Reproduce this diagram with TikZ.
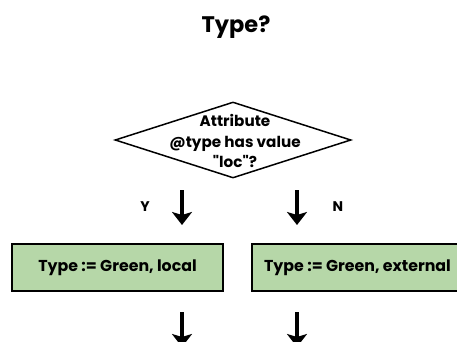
\documentclass[tikz,border=0pt]{standalone}
\usepackage{fontspec}
\setmainfont{Poppins}
\usetikzlibrary{shapes.geometric,arrows.meta}
\definecolor{boxgreen}{HTML}{B6D7A8}

\begin{document}
\begin{tikzpicture}[
		x=1pt, y=-1pt,
		ar/.style={-{Stealth[length=13pt,width=20pt,inset=3pt]}, line width=3.5pt},
		mybox/.style={draw, line width=1.5pt, fill=boxgreen, minimum width=211pt, minimum height=47pt, font=\bfseries\fontsize{15.8}{18}\selectfont},
		mydecision/.style={draw, diamond, line width=1.5pt, minimum width=236pt, minimum height=76pt, inner sep=0pt},
		lbl/.style={font=\bfseries\fontsize{14}{16}\selectfont}
	]
		\useasboundingbox (0,0) rectangle (457,342);
		\clip (0,0) rectangle (457,342);
		\node[font=\bfseries\fontsize{22.5}{26}\selectfont, anchor=base] (title) at (236,33) {Type?};
		% decision
		\node[mydecision] (attr) at (233,140) {};
		\node[align=center, font=\bfseries\fontsize{15.2}{20.5}\selectfont] (attrtext) at (235,141) {Attribute\\@type has value\\\textquotedbl loc\textquotedbl?};
		% outcomes
		\node[mybox] (local) at (117.5,267.5) {Type := Green, local};
		\node[mybox] (external) at (357.5,267.5) {Type := Green, external};
		\node[lbl] (yes) at (145,207) {Y};
		\node[lbl] (no) at (338,207) {N};
		% arrows
		\coordinate (yin) at (182,190);
		\coordinate (yout) at (182,225);
		\coordinate (nin) at (297,190);
		\coordinate (nout) at (297,225);
		\coordinate (lin) at (182,312);
		\coordinate (lout) at (182,347);
		\coordinate (ein) at (297,312);
		\coordinate (eout) at (297,347);
		\draw[ar] (yin) -- (yout);
		\draw[ar] (nin) -- (nout);
		\draw[ar] (lin) -- (lout);
		\draw[ar] (ein) -- (eout);
	\end{tikzpicture}
\end{document}
